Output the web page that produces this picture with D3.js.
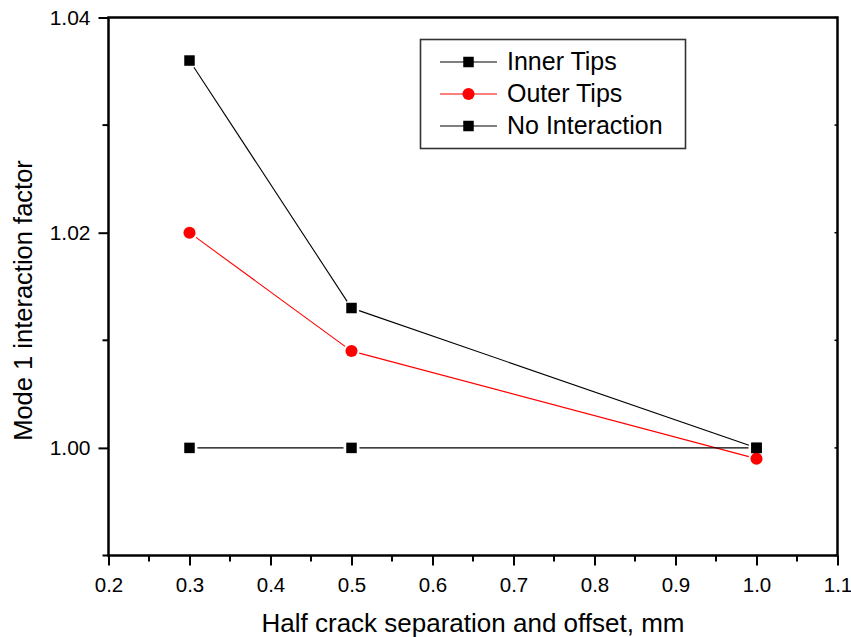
<!DOCTYPE html>
<html>
<head>
<meta charset="utf-8">
<script src="https://cdn.jsdelivr.net/npm/d3@7"></script>
<style>
  html, body { margin: 0; padding: 0; background: #fff; }
  svg { display: block; }
  svg text { font-family: "Liberation Sans", Arial, sans-serif; fill: #000; }
</style>
</head>
<body>
<svg id="chart" width="851" height="637"></svg>
<script>
// Crack separation (x) and mode 1 interaction factors for each tip series
const separation = [0.3, 0.5, 1.0];
const innerTips = [1.036, 1.013, 1.000];
const outerTips = [1.020, 1.009, 0.999];
const noInteraction = [1.000, 1.000, 1.000];

const xTicks = [0.2, 0.3, 0.4, 0.5, 0.6, 0.7, 0.8, 0.9, 1.0, 1.1];
const yTicks = [1.00, 1.02, 1.04];
const seriesNames = ["Inner Tips", "Outer Tips", "No Interaction"];

const series = [
  { name: seriesNames[0], values: innerTips, color: "#000", marker: "square" },
  { name: seriesNames[1], values: outerTips, color: "#ff0000", marker: "circle" },
  { name: seriesNames[2], values: noInteraction, color: "#000", marker: "square" }
];

const svg = d3.select("#chart");
const L = 108.5, R = 837.5, T = 17.5, B = 555.5;
const FONT = "'Liberation Sans', Arial, sans-serif";

const x = d3.scaleLinear().domain([0.2, 1.1]).range([L, R]);
const y = d3.scaleLinear().domain([0.99, 1.04]).range([B, T]);

// Minor tick positions halfway between labelled ticks
const xMinor = d3.range(0.25, 1.1, 0.1);
const yMinor = [0.99, 1.01, 1.03];

const g = svg.append("g");

// Frame
g.append("rect").attr("x", L).attr("y", T).attr("width", R - L).attr("height", B - T)
  .attr("fill", "none").attr("stroke", "#000").attr("stroke-width", 2.5);

// Bottom axis: outward ticks
const bottom = g.append("g").attr("transform", `translate(0,${B})`);
bottom.call(d3.axisBottom(x).tickValues(xTicks).tickFormat(d3.format(".1f")).tickSize(10).tickPadding(12))
  .attr("font-family", FONT).attr("font-size", 20.5)
  .call(a => a.select(".domain").remove());
bottom.selectAll(".tick line").attr("stroke-width", 2);
bottom.selectAll(".minor").data(xMinor).join("line").attr("class", "minor")
  .attr("x1", d => x(d)).attr("x2", d => x(d)).attr("y1", 0).attr("y2", 6)
  .attr("stroke", "#000").attr("stroke-width", 2);

// Left axis: outward ticks
const left = g.append("g").attr("transform", `translate(${L},0)`);
left.call(d3.axisLeft(y).tickValues(yTicks).tickFormat(d3.format(".2f")).tickSize(10).tickPadding(8))
  .attr("font-family", FONT).attr("font-size", 21)
  .call(a => a.select(".domain").remove());
left.selectAll(".tick line").attr("stroke-width", 2);
left.selectAll(".minor").data(yMinor).join("line").attr("class", "minor")
  .attr("x1", 0).attr("x2", -6).attr("y1", d => y(d)).attr("y2", d => y(d))
  .attr("stroke", "#000").attr("stroke-width", 2);

// Right axis: small inward ticks
g.append("g").selectAll("line").data(yTicks.concat(yMinor)).join("line")
  .attr("x1", R).attr("x2", R - 3).attr("y1", d => y(d)).attr("y2", d => y(d))
  .attr("stroke", "#000").attr("stroke-width", 1.5);

// Axis titles
svg.append("text").attr("x", (L + R) / 2).attr("y", 632).attr("text-anchor", "middle")
  .attr("font-size", 26).text("Half crack separation and offset, mm");
svg.append("text").attr("transform", `translate(32,${(T + B) / 2 + 14}) rotate(-90)`)
  .attr("text-anchor", "middle").attr("font-size", 25.5).text("Mode 1 interaction factor");

// Line segments stop a few pixels short of each marker
const gap = 8;
function drawMarker(sel, m, cx, cy, color, size) {
  if (m === "square") {
    sel.append("rect").attr("x", cx - size / 2).attr("y", cy - size / 2)
      .attr("width", size).attr("height", size).attr("fill", color);
  } else {
    sel.append("circle").attr("cx", cx).attr("cy", cy).attr("r", size / 2 + 0.8).attr("fill", color);
  }
}

const plot = g.append("g");
series.forEach(s => {
  const pts = separation.map((sx, i) => [x(sx), y(s.values[i])]);
  for (let i = 0; i < pts.length - 1; i++) {
    const [x1, y1] = pts[i], [x2, y2] = pts[i + 1];
    const len = Math.hypot(x2 - x1, y2 - y1);
    const ux = (x2 - x1) / len, uy = (y2 - y1) / len;
    plot.append("line")
      .attr("x1", x1 + ux * gap).attr("y1", y1 + uy * gap)
      .attr("x2", x2 - ux * gap).attr("y2", y2 - uy * gap)
      .attr("stroke", s.color).attr("stroke-width", 1.1);
  }
  pts.forEach(([px, py]) => drawMarker(plot, s.marker, px, py, s.color, 10.5));
});

// Legend
const leg = svg.append("g");
leg.append("rect").attr("x", 420.5).attr("y", 39.5).attr("width", 265).attr("height", 109)
  .attr("fill", "#fff").attr("stroke", "#333").attr("stroke-width", 1.6);
series.forEach((s, i) => {
  const cy = 62 + i * 32;
  leg.append("line").attr("x1", 440).attr("x2", 497).attr("y1", cy).attr("y2", cy)
    .attr("stroke", s.color).attr("stroke-width", 1.1);
  drawMarker(leg, s.marker, 468.5, cy, s.color, 10.5);
  leg.append("text").attr("x", 507).attr("y", cy + 8).attr("font-size", 25).text(s.name);
});
</script>
</body>
</html>
